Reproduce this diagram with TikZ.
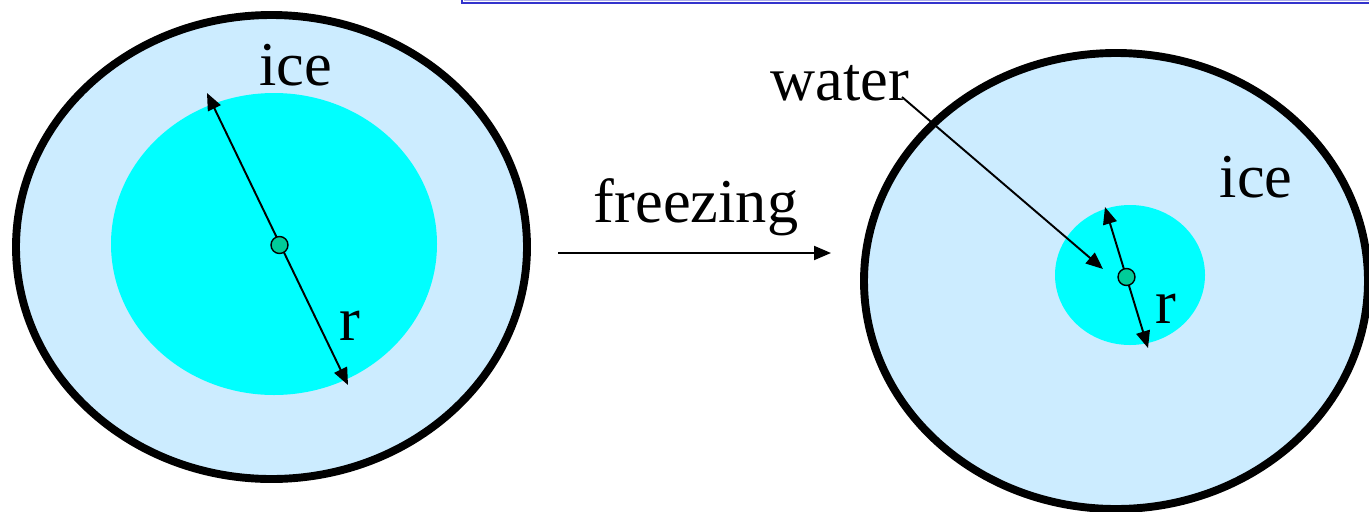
\documentclass[tikz,border=0pt]{standalone}
\usepackage{fontspec}
\setmainfont{Liberation Serif}
\usetikzlibrary{arrows.meta}
\definecolor{icecol}{RGB}{204,236,255}
\definecolor{watercol}{RGB}{0,255,255}
\definecolor{dotcol}{RGB}{0,204,153}
\definecolor{boxblue}{RGB}{51,51,204}
\tikzset{
  lbl/.style={anchor=base, inner sep=0pt, font=\fontsize{35.5}{40}\selectfont},
  outerice/.style={fill=icecol, draw=black, line width=4.5pt},
  waterblob/.style={fill=watercol, draw=none},
  centre/.style={circle, fill=dotcol, draw=black, line width=0.8pt, minimum size=0.34cm, inner sep=0pt},
  arr/.style={line width=1.1pt, -{Triangle[length=0.34cm,width=0.28cm]}},
  darr/.style={line width=1.1pt, {Triangle[length=0.34cm,width=0.28cm]}-{Triangle[length=0.34cm,width=0.28cm]}}
}
\begin{document}
\begin{tikzpicture}[x=0.02cm,y=-0.02cm]
\useasboundingbox (0,0) rectangle (1369,511);
% top box edge
\draw[boxblue, line width=1.4pt] (462,-20) -- (462,3) -- (1390,3);
\draw[boxblue!40, line width=0.5pt] (464.5,-20) -- (464.5,0.8) -- (1390,0.8);
% left sphere
\draw[outerice] (271.5,247) ellipse [x radius=255.5, y radius=232];
\fill[waterblob] (274,244) ellipse [x radius=163, y radius=151];
\coordinate (l1) at (207,93);
\coordinate (l2) at (348,385);
\draw[darr] (l1) -- (l2);
\node[centre] (lc) at (279.5,245) {};
\node[lbl] (licetext) at (296,85) {ice};
\node[lbl] (lr) at (350,340) {r};
% freezing arrow
\coordinate (f1) at (558,253);
\coordinate (f2) at (831,253);
\draw[arr] (f1) -- (f2);
\node[lbl] (freeze) at (696,222) {freezing};
% right sphere
\draw[outerice] (1116,281) ellipse [x radius=252, y radius=228];
\fill[waterblob] (1130,275) ellipse [x radius=75, y radius=70];
\coordinate (r1) at (1105,207);
\coordinate (r2) at (1148,348);
\draw[darr] (r1) -- (r2);
\node[centre] (rc) at (1126.5,277) {};
\node[lbl] (ricetext) at (1256,197) {ice};
\node[lbl] (rr) at (1166,323) {r};
\node[lbl] (water) at (840,100) {water};
\coordinate (w1) at (902,97);
\coordinate (w2) at (1103,269);
\draw[arr] (w1) -- (w2);
\end{tikzpicture}
\end{document}
